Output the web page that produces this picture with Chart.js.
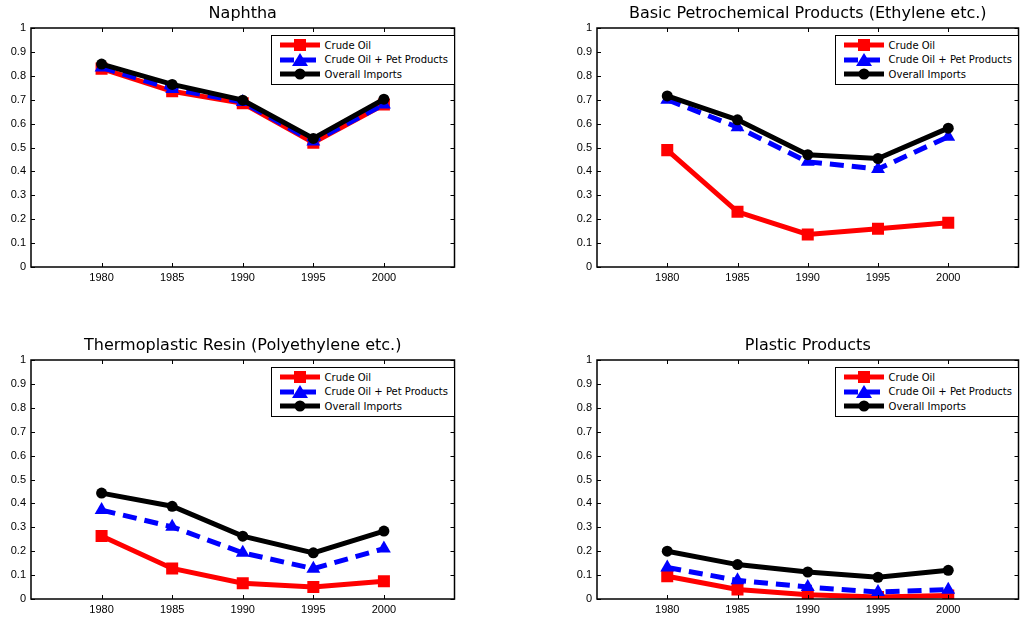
<!DOCTYPE html>
<html>
<head>
<meta charset="utf-8">
<script src="https://cdn.jsdelivr.net/npm/chart.js@4.4.0/dist/chart.umd.min.js"></script>
<style>
  html, body { margin: 0; padding: 0; background: #fff; overflow: hidden; }
  body { width: 1027px; height: 618px; position: relative; }
  .panel { position: absolute; }
  .legend {
    position: absolute; right: 8px; top: 35px;
    background: #fff; border: 1px solid #000;
    padding: 2px 6px 2px 8px;
    font: 10px "DejaVu Sans", sans-serif; color: #000;
  }
  .legend .row { display: flex; align-items: center; height: 14.5px; white-space: nowrap; }
  .legend svg { margin-right: 5px; }
</style>
</head>
<body>
<div class="panel" id="p0"><canvas id="c0"></canvas><div class="legend" id="l0"></div></div>
<div class="panel" id="p1"><canvas id="c1"></canvas><div class="legend" id="l1"></div></div>
<div class="panel" id="p2"><canvas id="c2"></canvas><div class="legend" id="l2"></div></div>
<div class="panel" id="p3"><canvas id="c3"></canvas><div class="legend" id="l3"></div></div>
<script>
(function(){
    // Data
    var years = [1980, 1985, 1990, 1995, 2000];
    var seriesNames = ['Crude Oil', 'Crude Oil + Pet Products', 'Overall Imports'];
    var panelTitles = [
        'Naphtha',
        'Basic Petrochemical Products (Ethylene etc.)',
        'Thermoplastic Resin (Polyethylene etc.)',
        'Plastic Products'
    ];

    var naphthaCrude   = [0.83, 0.735, 0.685, 0.52, 0.68];
    var naphthaPet     = [0.835, 0.745, 0.69, 0.525, 0.68];
    var naphthaOverall = [0.849, 0.764, 0.698, 0.538, 0.702];

    var basicCrude   = [0.489, 0.231, 0.136, 0.16, 0.185];
    var basicPet     = [0.70, 0.585, 0.44, 0.41, 0.545];
    var basicOverall = [0.716, 0.616, 0.47, 0.454, 0.581];

    var resinCrude   = [0.264, 0.128, 0.066, 0.05, 0.074];
    var resinPet     = [0.372, 0.302, 0.193, 0.127, 0.211];
    var resinOverall = [0.443, 0.388, 0.263, 0.193, 0.284];

    var plasticCrude   = [0.095, 0.04, 0.018, 0.008, 0.015];
    var plasticPet     = [0.132, 0.078, 0.05, 0.029, 0.039];
    var plasticOverall = [0.2, 0.144, 0.113, 0.091, 0.12];

    var panelData = [
        [naphthaCrude, naphthaPet, naphthaOverall],
        [basicCrude, basicPet, basicOverall],
        [resinCrude, resinPet, resinOverall],
        [plasticCrude, plasticPet, plasticOverall]
    ];

    // axes boxes in page pixels: left, top, width, height
    var boxes = [
        [31, 28, 431, 239],
        [597, 28, 429, 239],
        [31, 360, 431, 239],
        [597, 360, 429, 239]
    ];
    var padL = 31, padT = 28, padB = 19, padR = 1;

    var styles = [
        { color: '#ff0000', dash: [], point: 'rect', radius: 8.5 },
        { color: '#0000ff', dash: [14, 8], point: 'triangle', radius: 8 },
        { color: '#000000', dash: [], point: 'circle', radius: 5.5 }
    ];

    // Box frame with inward ticks, MATLAB style
    var frameTicks = {
        id: 'frameTicks',
        afterDraw: function(chart) {
            var ctx = chart.ctx, a = chart.chartArea;
            var xs = chart.scales.x, ys = chart.scales.y;
            var tl = 4;
            ctx.save();
            ctx.strokeStyle = '#000';
            ctx.lineWidth = 1;
            ctx.beginPath();
            xs.ticks.forEach(function(t, i) {
                var px = Math.round(xs.getPixelForTick(i)) + 0.5;
                ctx.moveTo(px, a.bottom); ctx.lineTo(px, a.bottom - tl);
                ctx.moveTo(px, a.top); ctx.lineTo(px, a.top + tl);
            });
            ys.ticks.forEach(function(t, i) {
                var py = Math.round(ys.getPixelForTick(i)) + 0.5;
                ctx.moveTo(a.left, py); ctx.lineTo(a.left + tl, py);
                ctx.moveTo(a.right, py); ctx.lineTo(a.right - tl, py);
            });
            ctx.stroke();
            ctx.lineWidth = 1.5;
            ctx.strokeRect(a.left, a.top, a.right - a.left, a.bottom - a.top);
            ctx.restore();
        }
    };

    function legendSvg(s) {
        var m = '';
        if (s.point === 'rect') {
            m = '<rect x="14" y="1" width="12" height="12" fill="' + s.color + '"/>';
        } else if (s.point === 'triangle') {
            m = '<polygon points="20,0 28,13 12,13" fill="' + s.color + '"/>';
        } else {
            m = '<circle cx="20" cy="7" r="5.5" fill="' + s.color + '"/>';
        }
        var dash = s.dash.length ? ' stroke-dasharray="' + s.dash.join(',') + '"' : '';
        return '<svg width="40" height="14"><line x1="0" y1="7" x2="40" y2="7" stroke="' + s.color +
            '" stroke-width="5"' + dash + '/>' + m + '</svg>';
    }

    panelData.forEach(function(series, k) {
        var b = boxes[k];
        var panel = document.getElementById('p' + k);
        panel.style.left = (b[0] - padL) + 'px';
        panel.style.top = (b[1] - padT) + 'px';
        panel.style.width = (b[2] + padL + padR) + 'px';
        panel.style.height = (b[3] + padT + padB) + 'px';

        var legend = document.getElementById('l' + k);
        legend.innerHTML = seriesNames.map(function(n, i) {
            return '<div class="row">' + legendSvg(styles[i]) + '<span>' + n + '</span></div>';
        }).join('');

        var datasets = series.map(function(vals, i) {
            var s = styles[i];
            return {
                label: seriesNames[i],
                data: years.map(function(y, j) { return { x: y, y: vals[j] }; }),
                borderColor: s.color,
                backgroundColor: s.color,
                borderWidth: 5,
                borderDash: s.dash,
                pointStyle: s.point,
                pointRadius: s.radius,
                pointBorderWidth: 0,
                pointBackgroundColor: s.color,
                tension: 0,
                order: 3 - i
            };
        });

        new Chart(document.getElementById('c' + k), {
            type: 'line',
            data: { datasets: datasets },
            plugins: [frameTicks],
            options: {
                responsive: true,
                maintainAspectRatio: false,
                animation: false,
                layout: { padding: { left: 0, right: padR, top: 0, bottom: 0 } },
                plugins: {
                    legend: { display: false },
                    tooltip: { enabled: false },
                    title: {
                        display: true,
                        text: panelTitles[k],
                        fullSize: false,
                        color: '#000',
                        font: { family: 'DejaVu Sans', size: 16, weight: 'normal', lineHeight: 1.2 },
                        padding: { top: 4, bottom: 4.8 }
                    }
                },
                scales: {
                    x: {
                        type: 'linear',
                        min: 1975,
                        max: 2005,
                        afterBuildTicks: function(scale) {
                            scale.ticks = years.map(function(v) { return { value: v }; });
                        },
                        afterFit: function(scale) { scale.height = padB; },
                        grid: { display: false, drawTicks: false },
                        border: { display: false },
                        ticks: {
                            color: '#000',
                            padding: 4,
                            maxRotation: 0,
                            font: { family: 'Liberation Sans', size: 11 },
                            callback: function(v) { return String(v); }
                        }
                    },
                    y: {
                        min: 0,
                        max: 1,
                        afterFit: function(scale) { scale.width = padL; },
                        grid: { display: false, drawTicks: false },
                        border: { display: false },
                        ticks: {
                            stepSize: 0.1,
                            color: '#000',
                            padding: 5,
                            font: { family: 'Liberation Sans', size: 11 },
                            callback: function(v) { return String(+v.toFixed(1)); }
                        }
                    }
                }
            }
        });
    });
})();
</script>
</body>
</html>
